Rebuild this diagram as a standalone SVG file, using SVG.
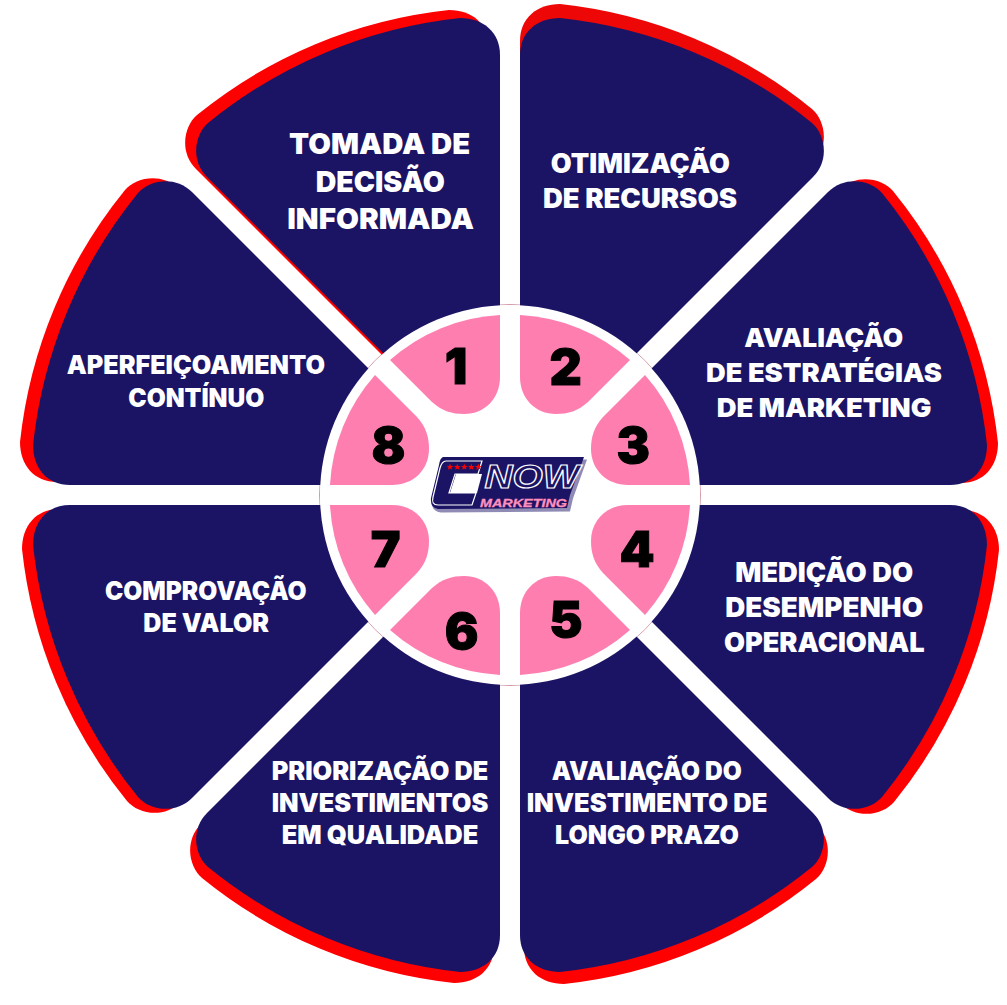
<svg xmlns="http://www.w3.org/2000/svg" width="1007" height="1005" viewBox="0 0 1007 1005">
<style>
.navy{fill:#1b1464}
.red{fill:#ff0000}
.pink{fill:#ff7eb0}
.lb{font-family:Inter,"Open Sans","Liberation Sans",sans-serif;font-weight:900;fill:#fff;text-anchor:middle}
.num{font-family:Inter,"Open Sans","Liberation Sans",sans-serif;font-weight:900;font-size:50px;fill:#000;stroke:#000;stroke-width:1;text-anchor:middle}
.lg{font-family:"Liberation Sans",Arial,sans-serif;font-weight:700;font-style:italic}
</style>
<defs>
<path id="petal" d="M10 -115V-440C10 -463 27 -477 50 -477A480 480 0 0 1 302 -372C315 -361 320 -335 303 -318L100 -115Z"/>
<path id="badge" d="M10 -180A180 180 0 0 1 120 -135L78 -93C68 -84 58 -81 46 -81C25 -81 10 -97 10 -118Z"/>
<polygon id="star" points="0,-3.4 0.9,-1.1 3.3,-1.1 1.4,0.4 2.1,2.8 0,1.4 -2.1,2.8 -1.4,0.4 -3.3,-1.1 -0.9,-1.1" fill="#ff0000"/>
</defs>
<rect width="1007" height="1005" fill="#fff"/>
<circle cx="510" cy="495" r="190.5" fill="none" stroke="#c77f8f" stroke-width="0.8"/>

<g id="node-1">
<use href="#petal" class="red" transform="translate(499 487) scale(-1 1)"/>
<use href="#petal" class="navy" transform="translate(510 495) scale(-1 1)"/>
<text class="lb" font-size="29" x="379.6" y="154" textLength="181" lengthAdjust="spacingAndGlyphs">TOMADA DE</text>
<text class="lb" font-size="29" x="380.3" y="192" textLength="129.3" lengthAdjust="spacingAndGlyphs">DECISÃO</text>
<text class="lb" font-size="29" x="380.6" y="229" textLength="186.7" lengthAdjust="spacingAndGlyphs">INFORMADA</text>
</g>
<g id="node-2">
<use href="#petal" fill="#ee0707" transform="translate(510 481)"/>
<use href="#petal" class="navy" transform="translate(510 495)"/>
<text class="lb" font-size="26.5" x="640.3" y="173" textLength="179" lengthAdjust="spacingAndGlyphs">OTIMIZAÇÃO</text>
<text class="lb" font-size="26.5" x="640" y="208" textLength="194" lengthAdjust="spacingAndGlyphs">DE RECURSOS</text>
</g>
<g id="node-3">
<use href="#petal" class="red" transform="translate(521 493) matrix(0 -1 -1 0 0 0)"/>
<use href="#petal" class="navy" transform="translate(510 495) matrix(0 -1 -1 0 0 0)"/>
<text class="lb" font-size="26" x="823.7" y="347.3" textLength="159" lengthAdjust="spacingAndGlyphs">AVALIAÇÃO</text>
<text class="lb" font-size="26" x="824" y="381.7" textLength="236" lengthAdjust="spacingAndGlyphs">DE ESTRATÉGIAS</text>
<text class="lb" font-size="26" x="824" y="416.7" textLength="214.7" lengthAdjust="spacingAndGlyphs">DE MARKETING</text>
</g>
<g id="node-4">
<use href="#petal" class="red" transform="translate(522 500) matrix(0 1 -1 0 0 0)"/>
<use href="#petal" class="navy" transform="translate(510 495) matrix(0 1 -1 0 0 0)"/>
<text class="lb" font-size="27.5" x="824.2" y="582.3" textLength="178" lengthAdjust="spacingAndGlyphs">MEDIÇÃO DO</text>
<text class="lb" font-size="27.5" x="824.2" y="616.7" textLength="198" lengthAdjust="spacingAndGlyphs">DESEMPENHO</text>
<text class="lb" font-size="27.5" x="824.3" y="651.7" textLength="200.7" lengthAdjust="spacingAndGlyphs">OPERACIONAL</text>
</g>
<g id="node-5">
<use href="#petal" class="red" transform="translate(514 507) scale(1 -1)"/>
<use href="#petal" class="navy" transform="translate(510 495) scale(1 -1)"/>
<text class="lb" font-size="25.4" x="646.7" y="780" textLength="190" lengthAdjust="spacingAndGlyphs">AVALIAÇÃO DO</text>
<text class="lb" font-size="25.4" x="647" y="811.7" textLength="240.7" lengthAdjust="spacingAndGlyphs">INVESTIMENTO DE</text>
<text class="lb" font-size="25.4" x="647" y="844.3" textLength="184" lengthAdjust="spacingAndGlyphs">LONGO PRAZO</text>
</g>
<g id="node-6">
<use href="#petal" class="red" transform="translate(504 506) scale(-1 -1)"/>
<use href="#petal" class="navy" transform="translate(510 495) scale(-1 -1)"/>
<text class="lb" font-size="25.4" x="380" y="780" textLength="216.7" lengthAdjust="spacingAndGlyphs">PRIORIZAÇÃO DE</text>
<text class="lb" font-size="25.4" x="380" y="811.7" textLength="216.7" lengthAdjust="spacingAndGlyphs">INVESTIMENTOS</text>
<text class="lb" font-size="25.4" x="380" y="844.3" textLength="196.7" lengthAdjust="spacingAndGlyphs">EM QUALIDADE</text>
</g>
<g id="node-7">
<use href="#petal" class="red" transform="translate(499 499) matrix(0 1 1 0 0 0)"/>
<use href="#petal" class="navy" transform="translate(510 495) matrix(0 1 1 0 0 0)"/>
<text class="lb" font-size="25.4" x="205.8" y="600" textLength="201.7" lengthAdjust="spacingAndGlyphs">COMPROVAÇÃO</text>
<text class="lb" font-size="25.4" x="206.2" y="632.3" textLength="125.7" lengthAdjust="spacingAndGlyphs">DE VALOR</text>
</g>
<g id="node-8">
<use href="#petal" class="red" transform="translate(497 492) matrix(0 -1 1 0 0 0)"/>
<use href="#petal" class="navy" transform="translate(510 495) matrix(0 -1 1 0 0 0)"/>
<text class="lb" font-size="25.4" x="195.8" y="374.3" textLength="258.3" lengthAdjust="spacingAndGlyphs">APERFEIÇOAMENTO</text>
<text class="lb" font-size="25.4" x="196.3" y="406.7" textLength="136" lengthAdjust="spacingAndGlyphs">CONTÍNUO</text>
</g>

<g id="hub"><circle cx="510" cy="495" r="190" fill="#fff"/></g>

<g id="badge-1"><use href="#badge" class="pink" transform="translate(510 495) scale(-1 1)"/><text class="num" x="456" y="384">1</text></g>
<g id="badge-2"><use href="#badge" class="pink" transform="translate(510 495)"/><text class="num" x="565.7" y="384.5">2</text></g>
<g id="badge-3"><use href="#badge" class="pink" transform="translate(510 495) matrix(0 -1 -1 0 0 0)"/><text class="num" x="633.3" y="463">3</text></g>
<g id="badge-4"><use href="#badge" class="pink" transform="translate(510 495) matrix(0 1 -1 0 0 0)"/><text class="num" x="637" y="567.2">4</text></g>
<g id="badge-5"><use href="#badge" class="pink" transform="translate(510 495) scale(1 -1)"/><text class="num" x="565.8" y="637.2">5</text></g>
<g id="badge-6"><use href="#badge" class="pink" transform="translate(510 495) scale(-1 -1)"/><text class="num" x="461.7" y="648.5">6</text></g>
<g id="badge-7"><use href="#badge" class="pink" transform="translate(510 495) matrix(0 1 1 0 0 0)"/><text class="num" x="385.5" y="567.2">7</text></g>
<g id="badge-8"><use href="#badge" class="pink" transform="translate(510 495) matrix(0 -1 1 0 0 0)"/><text class="num" x="388.5" y="463">8</text></g>

<g id="logo">
<path d="M443 458H586L572 497L569 510L440 511Q430 510 431 499L439 466Q440 459 443 458Z" fill="#8f8bb5" transform="translate(1 1.5)"/>
<path d="M443 457H584L570 495L567 508L438 509Q430 508 431 498L439 465Q440 458 443 457Z" fill="#1b1464"/>
<path d="M456 474H482L477 493H450Z" fill="#fff"/>
<path d="M446 461H482L478 474H455L449 493H476L472 505H438Q431 505 433 497L440 468Q442 461 446 461Z" fill="#1b1464" stroke="#fff" stroke-width="1.2"/>
<text class="lg" x="532" y="488" font-size="34" text-anchor="middle" textLength="95" lengthAdjust="spacingAndGlyphs" fill="#1b1464" stroke="#fff" stroke-width="1.2">NOW</text>
<text class="lg" x="523.5" y="506.5" font-size="11.5" text-anchor="middle" textLength="87" lengthAdjust="spacingAndGlyphs" fill="#ff8fbd" stroke="#ff8fbd" stroke-width="0.3">MARKETING</text>
<use href="#star" x="450" y="467"/><use href="#star" x="457.3" y="467"/><use href="#star" x="464.3" y="467"/><use href="#star" x="471.3" y="467"/><use href="#star" x="478.3" y="467"/>
</g>
</svg>
